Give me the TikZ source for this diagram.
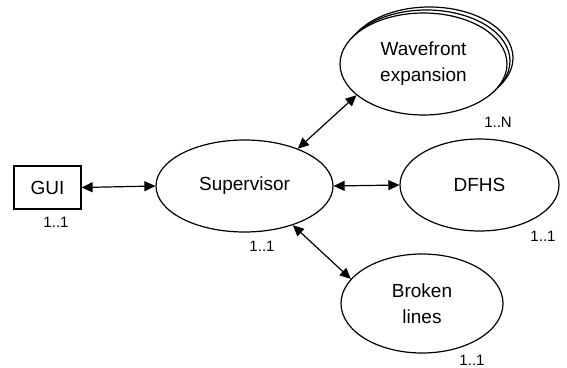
\documentclass[tikz,border=0pt]{standalone}
\usepackage{fontspec}
\setmainfont{Liberation Sans}
\usetikzlibrary{shapes.geometric,arrows.meta}

\tikzset{
  proc/.style={draw, ellipse, line width=1.2pt, fill=white, inner sep=0pt, align=center, font=\fontsize{19}{26}\selectfont},
  mult/.style={font=\fontsize{15}{18}\selectfont, inner sep=0pt},
  link/.style={{Triangle[length=11pt,width=10pt]}-{Triangle[length=11pt,width=10pt]}, line width=1.2pt}
}

\begin{document}
\begin{tikzpicture}[x=1pt,y=-1pt]
\useasboundingbox (0,0) rectangle (567,367);

% GUI box
\node[draw, line width=1.2pt, minimum width=67pt, minimum height=43pt, inner sep=0pt, font=\fontsize{19}{26}\selectfont] (gui) at (47.5,187.5) {GUI};
\node[mult] (guim) at (56,222) {1..1};

% Supervisor
\node[proc, minimum width=177pt, minimum height=92pt] (sup) at (244.5,186) {Supervisor};
\node[mult] (supm) at (262,246) {1..1};

% Wavefront expansion (stacked copies behind)
\foreach \d in {6,3} {
    \node[proc, minimum width=167pt, minimum height=102pt] at (423.5+\d,64-\d) {};
}
\node[proc, minimum width=167pt, minimum height=102pt] (wave) at (423.5,64) {Wavefront\\expansion};
\node[mult] (wavem) at (498,122) {1..N};

% DFHS
\node[proc, minimum width=159pt, minimum height=92pt] (dfhs) at (479.5,185) {DFHS};
\node[mult] (dfhsm) at (543,236) {1..1};

% Broken lines
\node[proc, minimum width=162pt, minimum height=99pt] (broken) at (422,303.5) {Broken\\lines};
\node[mult] (brokenm) at (472,360) {1..1};

% links
\draw[link] (gui.east) -- (sup.west);
\draw[link] (sup.east) -- (dfhs.west);
\draw[link] (sup.35) -- (wave.205);
\draw[link] (sup.-39) -- (broken.161);

\end{tikzpicture}
\end{document}
